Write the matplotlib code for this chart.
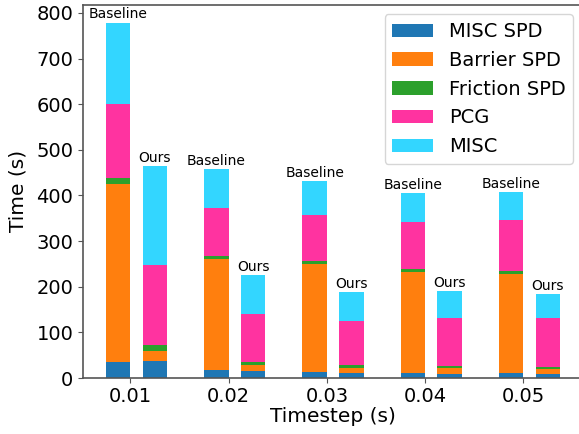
import numpy as np
import matplotlib
matplotlib.use("Agg")
import matplotlib.pyplot as plt

timesteps = [0.01, 0.02, 0.03, 0.04, 0.05]
labels = ["MISC SPD", "Barrier SPD", "Friction SPD", "PCG", "MISC"]
colors = ["#1f77b4", "#ff7f0e", "#2ca02c", "#ff33a0", "#33d6ff"]

# baseline timings (s)
base_misc_spd = [35, 17, 13, 11, 11]
base_barrier = [390, 243, 236, 222, 217]
base_friction = [13, 8, 7, 5, 6]
base_pcg = [162, 104, 101, 103, 112]
base_misc = [179, 85, 74, 64, 61]

# ours timings (s)
ours_misc_spd = [37, 15, 11, 9, 9]
ours_barrier = [22, 13, 11, 13, 11]
ours_friction = [13, 7, 6, 4, 4]
ours_pcg = [175, 105, 97, 105, 107]
ours_misc = [217, 85, 63, 59, 53]

base = [base_misc_spd, base_barrier, base_friction, base_pcg, base_misc]
ours = [ours_misc_spd, ours_barrier, ours_friction, ours_pcg, ours_misc]

fig = plt.figure(figsize=(5.79, 4.34), dpi=100)
ax = fig.add_axes([0.1434, 0.129, 0.8635, 0.86])

x = np.array(timesteps)
w = 0.0025

#stack the baseline bars
bottom = np.zeros(len(x))
for vals, lab, c in zip(base, labels, colors):
    ax.bar(x - w/2, vals, w, bottom=bottom, color=c, label=lab)
    bottom = bottom + np.array(vals)
base_tot = bottom

#stack ours bars
bottom = np.zeros(len(x))
for vals, c in zip(ours, colors):
    ax.bar(x + w, vals, w, bottom=bottom, color=c)
    bottom = bottom + np.array(vals)
ours_tot = bottom

for xi, t in zip(x, base_tot):
    ax.annotate("Baseline", (xi - w/2, t), xytext=(0, 1), textcoords="offset points",
                ha="center", va="bottom", fontsize=10)
for xi, t in zip(x, ours_tot):
    ax.annotate("Ours", (xi + w, t), xytext=(0, 1), textcoords="offset points",
                ha="center", va="bottom", fontsize=10)

ax.set_xticks(timesteps)
ax.set_xticklabels(["0.01", "0.02", "0.03", "0.04", "0.05"])
ax.tick_params(labelsize=14, color="#555555")
ax.tick_params(axis="x", pad=3)
ax.set_xlabel("Timestep (s)", fontsize=14.5, labelpad=0.5)
ax.set_ylabel("Time (s)", fontsize=14.5, labelpad=6)
for s in ax.spines.values():
    s.set_color("#555555")
    s.set_linewidth(1.2)

ax.legend(loc="upper right", fontsize=14, labelspacing=0.5, handlelength=2.1)

plt.savefig("out.png", dpi=100)
